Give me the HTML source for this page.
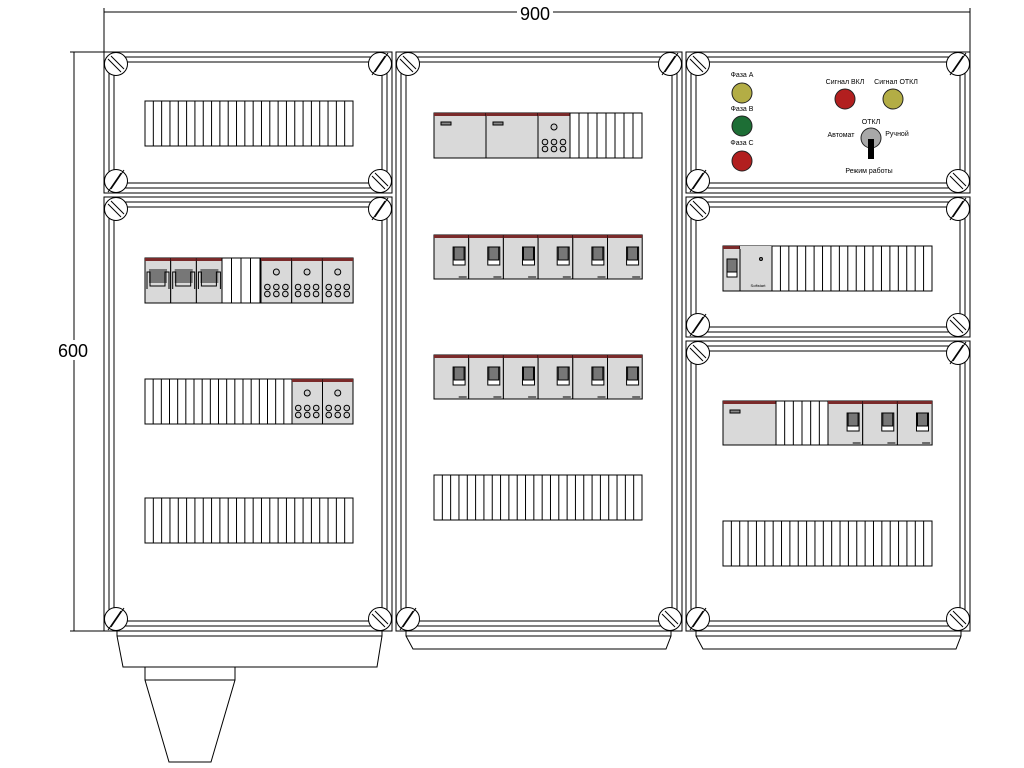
<!DOCTYPE html>
<html><head><meta charset="utf-8"><style>
html,body{margin:0;padding:0;background:#fff;}
svg{display:block;}
text{font-family:"Liberation Sans",sans-serif;}
</style></head><body>
<svg id="s" width="1024" height="768" viewBox="0 0 1024 768" xmlns="http://www.w3.org/2000/svg" fill="none" stroke="#000" stroke-width="1">
<g id="g"></g>
<!-- dimensions -->
<line x1="104" y1="12" x2="970" y2="12"/>
<line x1="104" y1="8" x2="104" y2="52"/>
<line x1="970" y1="8" x2="970" y2="52"/>
<line x1="74" y1="52" x2="74" y2="631"/>
<line x1="70" y1="52" x2="104" y2="52"/>
<line x1="70" y1="631" x2="104" y2="631"/>
<rect x="517" y="4" width="36" height="16" fill="#fff" stroke="none"/>
<text x="535" y="20" font-size="18" fill="#000" stroke="none" text-anchor="middle">900</text>
<rect x="56" y="340" width="36" height="20" fill="#fff" stroke="none"/>
<text x="73" y="357" font-size="18" fill="#000" stroke="none" text-anchor="middle">600</text>
<!-- bases -->
<path d="M117 631 L382 631 L382 636 L377 667 L123 667 L117 636 Z M117 636 L382 636"/>
<path d="M145 667 L235 667 L235 680 L211 762 L169 762 L145 680 Z M145 680 L235 680"/>
<path d="M406 631 L671 631 L671 636 L666 649 L413 649 L406 636 Z M406 636 L671 636"/>
<path d="M696 631 L961 631 L961 636 L956 649 L703 649 L696 636 Z M696 636 L961 636"/>
<!-- labels -->
<g fill="#000" stroke="none" font-size="7" text-anchor="middle">
<text x="742" y="77">Фаза А</text>
<text x="742" y="111">Фаза В</text>
<text x="742" y="145">Фаза С</text>
<text x="845" y="84">Сигнал ВКЛ</text>
<text x="896" y="84">Сигнал ОТКЛ</text>
<text x="871" y="124">ОТКЛ</text>
<text x="841" y="137">Автомат</text>
<text x="897" y="136">Ручной</text>
<text x="869" y="173">Режим работы</text>
<text x="758" y="287" font-size="4">Softstart</text>
</g>
<g stroke="#222">
<circle cx="742" cy="93" r="10" fill="#b3ad45"/>
<circle cx="742" cy="126" r="10" fill="#1d6e35"/>
<circle cx="742" cy="161" r="10" fill="#b21f1f"/>
<circle cx="845" cy="99" r="10" fill="#b21f1f"/>
<circle cx="893" cy="99" r="10" fill="#b3ad45"/>
<circle cx="871" cy="138" r="10" fill="#a8a8a8"/>
</g>
<rect x="868" y="139" width="6" height="20" fill="#000" stroke="none"/>
</svg>
<script>
var g=document.getElementById('g'),NS='http://www.w3.org/2000/svg';
function el(t,a){var e=document.createElementNS(NS,t);for(var k in a)e.setAttribute(k,a[k]);g.appendChild(e);return e;}
function box(x1,y1,x2,y2){
 el('rect',{x:x1,y:y1,width:x2-x1,height:y2-y1});
 el('rect',{x:x1+5,y:y1+5,width:x2-x1-10,height:y2-y1-10});
 el('rect',{x:x1+10,y:y1+10,width:x2-x1-20,height:y2-y1-20});
 [[x1+12,y1+12,1],[x2-12,y1+12,-1],[x1+12,y2-12,-1],[x2-12,y2-12,1]].forEach(function(c){
  el('circle',{cx:c[0],cy:c[1],r:11.5,fill:'#fff'});
  var d=c[2];
  el('line',{x1:c[0]-8,y1:c[1]-8*d+3,x2:c[0]+8-3,y2:c[1]+8*d});
  el('line',{x1:c[0]-8+3,y1:c[1]-8*d,x2:c[0]+8,y2:c[1]+8*d-3});
 });
}
function slots(x1,x2,y,h,n){el('rect',{x:x1,y:y,width:x2-x1,height:h,fill:'#fff'});var w=(x2-x1)/n;for(var i=1;i<n;i++)el('line',{x1:x1+i*w,y1:y,x2:x1+i*w,y2:y+h});}
function unit(x,w,y,h){el('rect',{x:x,y:y,width:w,height:h,fill:'#d9d9d9'});el('rect',{x:x,y:y,width:w,height:3,fill:'#7a2a2a',stroke:'none'});}
function brk(x,w,y,h){unit(x,w,y,h);var tx=x+w*0.55;el('rect',{x:tx,y:y+12,width:12,height:18,fill:'#fff'});el('rect',{x:tx+1,y:y+12,width:10,height:13,fill:'#777'});el('line',{x1:x+w-10,y1:y+h-2,x2:x+w-2,y2:y+h-2});}
function blank(x,w,y,h){unit(x,w,y,h);el('rect',{x:x+7,y:y+9,width:10,height:3,fill:'#888'});}
function term(x,w,y,h){unit(x,w,y,h);el('circle',{cx:x+w/2,cy:y+14,r:3,fill:'#ccc'});for(var r=0;r<2;r++)for(var c=0;c<3;c++)el('circle',{cx:x+w/2-9+9*c,cy:y+29+7*r,r:2.8,fill:'#ccc'});}
box(104,52,392,193);box(104,197,392,631);box(396,52,682,631);
box(686,52,970,193);box(686,197,970,337);box(686,341,970,631);
slots(145,353,101,45,25);
// left row1
for(var i=0;i<3;i++){var x=145+i*25.7;unit(x,25.7,258,45);el('rect',{x:x+4,y:269,width:18,height:14,fill:'#777',stroke:'none'});el('path',{d:'M'+(x+2)+' 289 V272 H'+(x+5)+' V286 H'+(x+20)+' V272 H'+(x+24)+' V289'});}
slots(222,260,258,45,4);
for(i=0;i<3;i++)term(261+i*30.7,30.7,258,45);
slots(145,292,379,45,18);
for(i=0;i<2;i++)term(292+i*30.5,30.5,379,45);
slots(145,353,498,45,25);
// middle
blank(434,52,113,45);blank(486,52,113,45);term(538,32,113,45);slots(570,642,113,45,8);
for(i=0;i<6;i++){brk(434+i*34.7,34.7,235,44);brk(434+i*34.7,34.7,355,44);}
slots(434,642,475,45,25);
// right
unit(723,17,246,45);el('rect',{x:727,y:259,width:10,height:13,fill:'#777'});el('rect',{x:727,y:272,width:10,height:5,fill:'#fff'});
unit(740,32,246,45);el('rect',{x:740,y:246,width:32,height:3,fill:'#d9d9d9',stroke:'none'});el('circle',{cx:761,cy:259,r:1.5,fill:'#888'});
slots(772,932,246,45,19);
blank(723,53,401,44);slots(776,828,401,44,6);
for(i=0;i<3;i++)brk(828+i*34.7,34.7,401,44);
slots(723,932,521,45,25);
</script>
</body></html>
